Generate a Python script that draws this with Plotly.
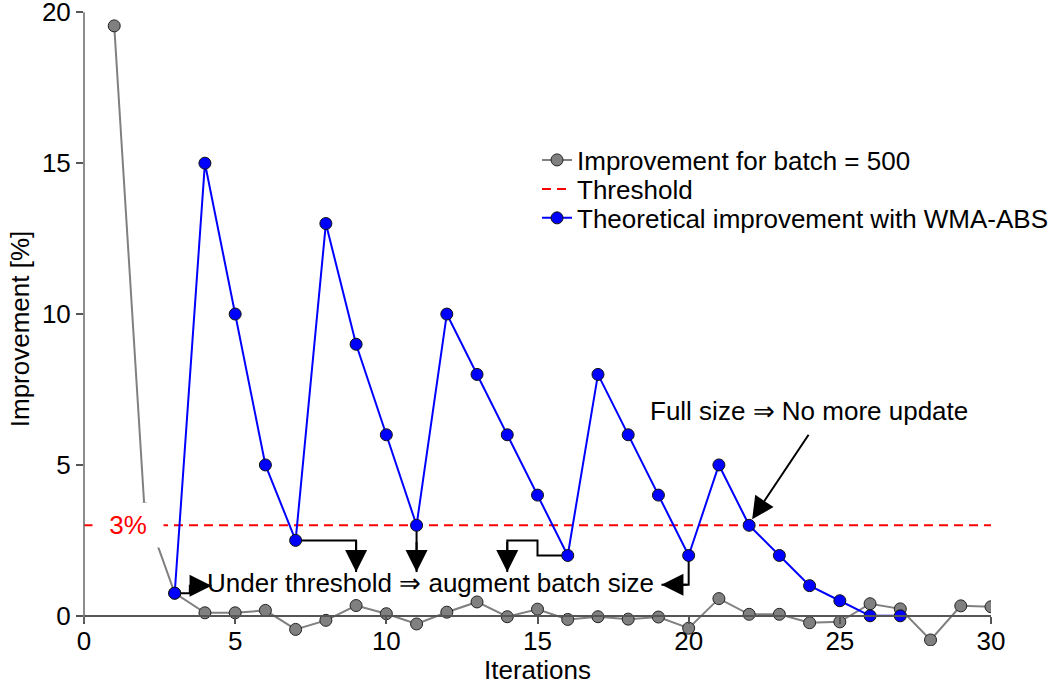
import plotly.graph_objects as go

# ---------------- data ----------------
iter_grey = list(range(1, 31))
improv_grey = [19.55, 3.55, 0.75, 0.10, 0.10, 0.18, -0.45, -0.15, 0.34, 0.07,
               -0.27, 0.12, 0.46, -0.03, 0.22, -0.12, -0.03, -0.11, -0.04, -0.41,
               0.57, 0.05, 0.05, -0.23, -0.20, 0.40, 0.23, -0.80, 0.33, 0.30]

iter_blue = list(range(3, 28))
improv_blue = [0.75, 15, 10, 5, 2.5, 13, 9, 6, 3, 10, 8, 6, 4, 2, 8, 6, 4, 2,
               5, 3, 2, 1, 0.5, 0, 0]

threshold_x = [0, 30]
threshold_value = 3

x_ticks = [0, 5, 10, 15, 20, 25, 30]
y_ticks = [0, 5, 10, 15, 20]

# step-arrow paths (x list, y list); last segment carries the arrowhead
arrow_paths = [
    ([3, 3.5, 3.5, 4.22], [0.75, 0.75, 1.0, 1.0]),
    ([7, 9, 9], [2.5, 2.5, 1.45]),
    ([11, 11, 11], [3, 2.5, 1.45]),
    ([16, 15, 15, 14, 14], [2, 2, 2.5, 2.5, 1.45]),
    ([20, 20, 19.1], [2, 1.03, 1.03]),
]
full_arrow = ([24.0, 22.1], [6.05, 3.2])

label_under = "Under threshold ⇒ augment batch size"
label_under_pos = (11.45, 1.08)
label_full = "Full size ⇒ No more update"
label_full_pos = (23.97, 6.8)
label_thr = "3%"
label_thr_pos = (1.44, 3.0)

FONT = "Liberation Sans, Arial, Helvetica, sans-serif"
FS = 26
Y_MIN, Y_MAX = -1.0, 20.01

fig = go.Figure()

fig.add_trace(go.Scatter(
    x=iter_grey, y=improv_grey, mode="lines+markers",
    name="Improvement for batch = 500", legend="legend",
    line=dict(color="#808080", width=2),
    marker=dict(size=12, color="#808080", line=dict(color="#222", width=1)),
))
fig.add_trace(go.Scatter(
    x=threshold_x, y=[threshold_value] * len(threshold_x), mode="lines",
    name="Threshold", legend="legend2",
    line=dict(color="#ff0000", width=2, dash="9px,6px"),
))
for ax_, ay_ in arrow_paths:
    fig.add_trace(go.Scatter(
        x=ax_, y=ay_, mode="lines", showlegend=False, hoverinfo="skip",
        line=dict(color="black", width=2),
    ))
fig.add_trace(go.Scatter(
    x=iter_blue, y=improv_blue, mode="lines+markers",
    name="Theoretical improvement with WMA-ABS", legend="legend3",
    line=dict(color="#0000ff", width=2),
    marker=dict(size=12, color="#0000ff", line=dict(color="#111", width=1)),
))

annotations = []
for ax_, ay_ in arrow_paths + [full_arrow]:
    annotations.append(dict(
        x=ax_[-1], y=ay_[-1], ax=ax_[-2], ay=ay_[-2],
        xref="x", yref="y", axref="x", ayref="y", text="",
        showarrow=True, arrowhead=2, arrowsize=2.2, arrowwidth=2,
        arrowcolor="black", standoff=0, startstandoff=0,
    ))
annotations.append(dict(
    x=label_under_pos[0], y=label_under_pos[1], xref="x", yref="y",
    text=label_under, showarrow=False, font=dict(size=FS, color="black"),
))
annotations.append(dict(
    x=label_full_pos[0], y=label_full_pos[1], xref="x", yref="y",
    text=label_full, showarrow=False, font=dict(size=FS, color="black"),
))
annotations.append(dict(
    x=label_thr_pos[0], y=label_thr_pos[1], xref="x", yref="y",
    text=label_thr, showarrow=False, font=dict(size=FS, color="#ff0000"),
    bgcolor="white", width=68, height=42,
))
# x axis title
annotations.append(dict(
    x=0.5, y=-0.038, xref="paper", yref="paper", text="Iterations",
    showarrow=False, font=dict(size=FS, color="black"), yanchor="middle",
))

leg_common = dict(x=0.5052, xref="container", yref="container",
                  xanchor="left", yanchor="middle",
                  bgcolor="rgba(0,0,0,0)", font=dict(size=FS))

fig.update_layout(
    width=1063, height=690,
    margin=dict(l=84, r=72, t=12, b=44, autoexpand=False),
    paper_bgcolor="white", plot_bgcolor="white",
    font=dict(family=FONT, size=FS, color="black"),
    showlegend=True,
    legend=dict(y=0.7681, **leg_common),
    legend2=dict(y=0.7261, **leg_common),
    legend3=dict(y=0.6841, **leg_common),
    annotations=annotations,
    shapes=[dict(type="line", xref="paper", yref="y", x0=0, x1=0,
                 y0=-0.22, y1=20, line=dict(color="#666", width=1.5))],
    xaxis=dict(
        range=[0, 30], tickvals=x_ticks, ticks="outside", ticklen=7,
        tickcolor="#555", tickwidth=1.5,
        showline=True, linecolor="#555", linewidth=1.5,
        showgrid=False, zeroline=False,
        anchor="free", position=(0 - Y_MIN) / (Y_MAX - Y_MIN),
        tickfont=dict(size=FS), ticklabelstandoff=-5,
        automargin=False, ticklabeloverflow="allow",
    ),
    yaxis=dict(
        range=[Y_MIN, Y_MAX], tickvals=y_ticks, ticks="outside", ticklen=7,
        tickcolor="#555", tickwidth=1.5,
        showline=False, showgrid=False, zeroline=False,
        title=dict(text="Improvement [%]", font=dict(size=FS), standoff=4),
        tickfont=dict(size=FS), automargin=False, ticklabeloverflow="allow",
    ),
)

fig.write_html("out.html")
